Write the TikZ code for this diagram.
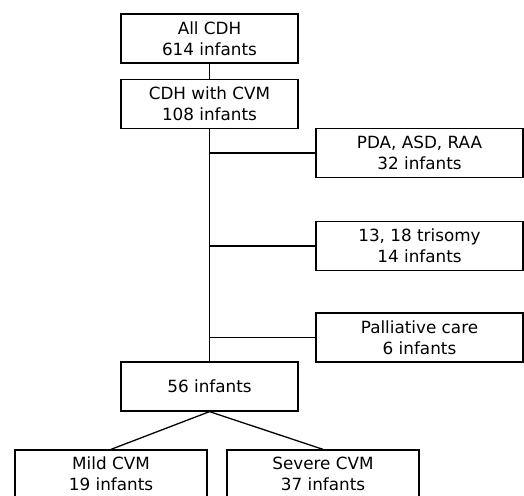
\documentclass[tikz,border=0pt]{standalone}
\usepackage{fontspec}
\setmainfont{DejaVu Sans}
\usetikzlibrary{positioning}

\tikzset{
    flowbox/.style={draw, line width=1.3pt, align=center, inner sep=0pt,
        minimum height=49pt, font=\fontsize{16.8}{21}\selectfont},
    wide/.style={flowbox, minimum width=177pt},
    side/.style={flowbox, minimum width=207pt},
    leaf/.style={flowbox, minimum width=192pt, minimum height=48pt},
    link/.style={line width=1.3pt}
}

\begin{document}
\begin{tikzpicture}[x=1pt, y=1pt]
    \useasboundingbox (0, 0) rectangle (524, 495);
    % main column
    \node[wide] (AllCDH) at (209.5, 456.5) {All CDH\\614 infants};
    \node[wide] (WithCVM) at (209.5, 391) {CDH with CVM\\108 infants};
    \node[wide] (Remain) at (209.5, 108.5) {56 infants};
    % excluded
    \node[side] (Minor) at (419.5, 342) {PDA, ASD, RAA\\32 infants};
    \node[side] (Trisomy) at (419.5, 249) {13, 18 trisomy\\14 infants};
    \node[side] (Palliative) at (419.5, 157.5) {Palliative care\\6 infants};
    % groups
    \node[leaf] (Mild) at (111, 21) {Mild CVM\\19 infants};
    \node[leaf] (Severe) at (323, 21) {Severe CVM\\37 infants};

    \draw[link] (AllCDH.south) -- (WithCVM.north);
    \draw[link] (WithCVM.south) -- (Remain.north);
    \foreach \side in {Minor, Trisomy, Palliative}
        \draw[link] (\side.west) -- (\side.west -| WithCVM.south);
    \draw[link] (Mild.north) -- (Remain.south) -- (Severe.north);
\end{tikzpicture}
\end{document}
